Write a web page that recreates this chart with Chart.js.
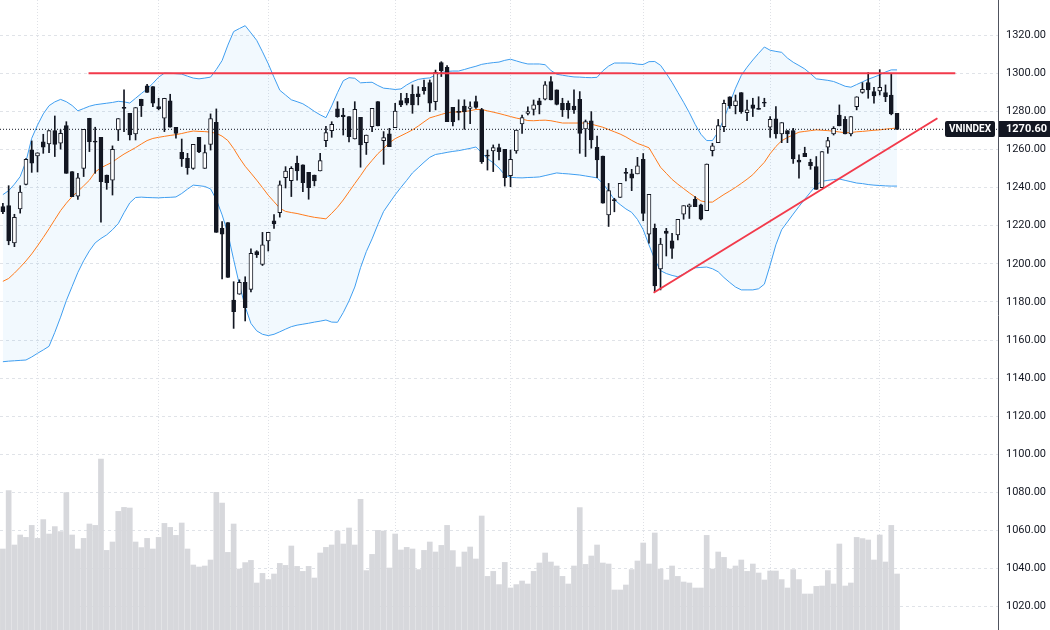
<!DOCTYPE html>
<html>
<head>
<meta charset="utf-8">
<title>VNINDEX</title>
<script src="https://cdn.jsdelivr.net/npm/chart.js@4.4.1/dist/chart.umd.min.js"></script>
<style>
  html, body { margin: 0; padding: 0; background: #fff; }
  #wrap { width: 1050px; height: 630px; }
</style>
</head>
<body>
<div id="wrap"><canvas id="chart" width="1050" height="630"></canvas></div>
<script>
// trading days (last 17 are empty future slots on the right)
const dates = [
  '2024-02-22','2024-02-23','2024-02-26','2024-02-27','2024-02-28','2024-02-29',
  '2024-03-01','2024-03-04','2024-03-05','2024-03-06','2024-03-07','2024-03-08','2024-03-11','2024-03-12','2024-03-13','2024-03-14','2024-03-15',
  '2024-03-18','2024-03-19','2024-03-20','2024-03-21','2024-03-22','2024-03-25','2024-03-26','2024-03-27','2024-03-28','2024-03-29',
  '2024-04-01','2024-04-02','2024-04-03','2024-04-04','2024-04-05','2024-04-08','2024-04-09','2024-04-10','2024-04-11','2024-04-12',
  '2024-04-15','2024-04-16','2024-04-17','2024-04-19','2024-04-22','2024-04-23','2024-04-24','2024-04-25','2024-04-26',
  '2024-05-02','2024-05-03','2024-05-06','2024-05-07','2024-05-08','2024-05-09','2024-05-10','2024-05-13','2024-05-14','2024-05-15','2024-05-16','2024-05-17',
  '2024-05-20','2024-05-21','2024-05-22','2024-05-23','2024-05-24','2024-05-27','2024-05-28','2024-05-29','2024-05-30','2024-05-31',
  '2024-06-03','2024-06-04','2024-06-05','2024-06-06','2024-06-07','2024-06-10','2024-06-11','2024-06-12','2024-06-13','2024-06-14',
  '2024-06-17','2024-06-18','2024-06-19','2024-06-20','2024-06-21','2024-06-24','2024-06-25','2024-06-26','2024-06-27','2024-06-28',
  '2024-07-01','2024-07-02','2024-07-03','2024-07-04','2024-07-05','2024-07-08','2024-07-09','2024-07-10','2024-07-11','2024-07-12',
  '2024-07-15','2024-07-16','2024-07-17','2024-07-18','2024-07-19','2024-07-22','2024-07-23','2024-07-24','2024-07-25','2024-07-26',
  '2024-07-29','2024-07-30','2024-07-31',
  '2024-08-01','2024-08-02','2024-08-05','2024-08-06','2024-08-07','2024-08-08','2024-08-09','2024-08-12','2024-08-13','2024-08-14','2024-08-15','2024-08-16',
  '2024-08-19','2024-08-20','2024-08-21','2024-08-22','2024-08-23','2024-08-26','2024-08-27','2024-08-28','2024-08-29','2024-08-30',
  '2024-09-04','2024-09-05','2024-09-06','2024-09-09','2024-09-10','2024-09-11','2024-09-12','2024-09-13','2024-09-16','2024-09-17',
  '2024-09-18','2024-09-19','2024-09-20','2024-09-23','2024-09-24','2024-09-25','2024-09-26','2024-09-27','2024-09-30',
  '2024-10-01','2024-10-02','2024-10-03','2024-10-04',
  '2024-10-07','2024-10-08','2024-10-09','2024-10-10','2024-10-11','2024-10-14','2024-10-15','2024-10-16','2024-10-17','2024-10-18',
  '2024-10-21','2024-10-22','2024-10-23','2024-10-24','2024-10-25','2024-10-28','2024-10-29'
];

const open = [
  1230.0,1230.5,1211.0,1228.8,1241.7,1259.8,1256.6,1264.0,1262.9,1269.9,
  1263.3,1272.5,1248.4,1235.5,1250.1,1276.4,1264.0,1266.4,1246.6,1243.9,
  1270.3,1281.8,1279.0,1268.2,1286.4,1293.4,1293.0,1282.5,1276.4,1285.5,
  1271.7,1258.5,1255.4,1250.1,1266.4,1250.1,1262.7,1274.3,1218.6,1221.6,
  1181.0,1184.0,1190.3,1186.6,1206.4,1199.7,1212.0,1222.6,1226.9,1245.2,
  1243.7,1252.8,1251.9,1248.0,1246.6,1248.7,1264.7,1269.9,1281.3,1278.1,
  1277.3,1265.5,1276.9,1263.6,1272.0,1285.1,1264.7,1268.2,1271.5,1285.7,
  1286.9,1289.0,1289.2,1292.6,1295.1,1285.1,1305.6,1303.1,1282.1,1279.6,
  1282.8,1281.6,1285.1,1281.0,1256.6,1259.2,1261.0,1260.1,1246.3,1259.2,
  1273.4,1279.0,1281.1,1285.5,1286.4,1295.6,1291.3,1284.3,1284.3,1282.8,
  1286.3,1270.8,1275.1,1261.2,1256.6,1225.6,1233.3,1234.9,1247.6,1247.2,
  1247.2,1254.8,1215.5,1218.6,1197.3,1217.2,1212.0,1215.1,1226.0,1230.0,
  1233.9,1230.9,1227.9,1259.4,1263.6,1272.0,1287.7,1283.0,1289.9,1279.4,
  1283.4,1281.6,1284.4,1271.7,1276.1,1268.2,1269.9,1269.9,1254.5,1258.0,
  1253.3,1251.0,1240.0,1261.2,1268.2,1278.1,1275.9,1268.2,1282.5,1290.0,
  1295.1,1290.4,1290.7,1289.9,1288.6,1279.0
];
const high = [
  1231.8,1241.0,1226.0,1241.0,1255.2,1264.5,1258.3,1268.0,1269.9,1277.6,
  1270.3,1274.6,1248.4,1247.5,1270.6,1276.4,1271.7,1266.4,1246.6,1261.9,
  1276.2,1291.3,1279.0,1282.0,1286.4,1294.2,1293.0,1286.9,1286.9,1289.0,
  1271.7,1265.5,1258.0,1262.7,1266.4,1262.4,1278.7,1281.3,1222.1,1221.6,
  1190.6,1191.6,1193.2,1207.8,1206.9,1216.5,1216.5,1225.9,1243.5,1251.0,
  1251.0,1256.6,1251.9,1248.0,1246.6,1258.0,1272.1,1274.6,1285.1,1281.6,
  1277.3,1285.1,1276.9,1267.6,1281.6,1285.1,1269.4,1271.1,1284.2,1289.5,
  1289.5,1293.9,1293.0,1296.5,1296.5,1301.7,1306.1,1304.0,1282.1,1286.1,
  1286.1,1285.0,1288.0,1281.6,1259.7,1262.4,1262.8,1260.1,1259.7,1270.2,
  1278.1,1282.4,1286.0,1286.9,1295.6,1298.3,1291.3,1286.9,1285.5,1291.3,
  1290.4,1275.5,1279.9,1267.1,1256.6,1242.2,1234.4,1242.2,1250.1,1249.6,
  1255.9,1257.9,1236.5,1220.9,1213.4,1218.6,1216.0,1223.4,1230.5,1231.4,
  1235.3,1231.4,1252.4,1263.3,1275.8,1286.0,1287.7,1288.6,1289.9,1286.0,
  1286.9,1287.7,1286.9,1277.3,1282.5,1274.1,1269.9,1271.1,1257.2,1261.2,
  1254.9,1256.3,1258.9,1266.4,1272.0,1283.4,1277.3,1277.3,1287.7,1295.1,
  1300.4,1292.7,1301.9,1293.9,1299.6,1279.0
];
const low = [
  1226.3,1210.0,1209.0,1226.6,1241.4,1248.0,1248.2,1258.0,1258.4,1256.3,
  1260.2,1247.5,1235.3,1233.8,1245.8,1258.9,1247.5,1221.8,1239.1,1236.1,
  1264.7,1269.4,1265.0,1265.0,1277.3,1290.0,1282.5,1280.8,1269.4,1271.7,
  1266.0,1251.1,1247.0,1249.6,1258.4,1250.1,1259.7,1216.5,1192.0,1192.9,
  1166.1,1184.0,1170.0,1185.3,1203.3,1199.1,1206.7,1218.6,1224.5,1239.8,
  1235.3,1243.9,1237.8,1233.9,1240.9,1248.7,1261.5,1266.4,1276.9,1267.6,
  1264.0,1265.5,1250.7,1257.4,1269.4,1272.4,1252.2,1261.5,1271.5,1282.5,
  1283.4,1279.0,1283.4,1289.0,1279.9,1280.8,1298.3,1274.6,1272.4,1275.5,
  1270.6,1273.6,1281.6,1252.7,1249.2,1248.4,1254.5,1240.8,1240.5,1258.0,
  1268.5,1278.1,1278.1,1278.7,1286.0,1286.0,1283.4,1277.3,1276.4,1279.0,
  1258.0,1256.3,1260.7,1245.2,1231.8,1219.6,1227.3,1234.9,1243.5,1238.4,
  1247.2,1222.6,1210.8,1185.4,1186.3,1204.1,1202.8,1212.5,1223.4,1223.8,
  1230.0,1223.1,1227.9,1256.6,1263.6,1269.4,1281.6,1278.7,1279.0,1275.1,
  1277.3,1281.1,1282.5,1266.4,1266.0,1263.6,1263.6,1252.7,1244.9,1256.3,
  1249.6,1239.1,1240.0,1258.0,1267.6,1272.4,1268.2,1267.1,1280.8,1289.5,
  1286.9,1284.3,1288.6,1285.1,1278.2,1270.6
];
const close = [
  1227.4,1212.0,1224.4,1237.7,1254.9,1252.8,1258.3,1261.2,1269.9,1262.7,
  1268.5,1247.5,1235.3,1245.1,1270.6,1264.1,1263.9,1243.1,1242.6,1260.1,
  1276.2,1281.6,1267.6,1282.0,1283.0,1290.0,1284.3,1281.5,1286.9,1271.7,
  1268.5,1255.0,1250.5,1262.7,1258.7,1258.4,1276.2,1216.5,1215.6,1192.9,
  1174.9,1190.3,1177.0,1205.5,1204.8,1209.9,1216.5,1220.9,1241.4,1248.7,
  1250.1,1248.7,1242.6,1240.0,1243.5,1254.2,1268.9,1273.2,1277.3,1277.3,
  1266.8,1281.1,1262.4,1267.6,1281.6,1272.4,1266.2,1261.5,1280.2,1283.4,
  1284.3,1283.4,1287.8,1290.9,1284.3,1300.5,1301.4,1274.6,1274.6,1279.5,
  1279.9,1282.4,1282.1,1253.6,1256.5,1261.0,1258.9,1245.2,1254.8,1270.2,
  1276.7,1279.9,1283.4,1283.4,1293.9,1286.0,1283.7,1280.8,1280.8,1280.8,
  1268.5,1274.6,1265.0,1254.5,1231.8,1238.4,1233.2,1242.2,1247.5,1244.9,
  1251.4,1226.5,1236.5,1188.4,1210.4,1216.0,1208.1,1223.4,1230.5,1230.9,
  1230.0,1223.4,1252.4,1261.9,1272.5,1284.3,1282.9,1285.5,1279.9,1280.8,
  1281.6,1281.1,1284.3,1275.9,1268.2,1274.1,1268.2,1255.0,1253.3,1256.3,
  1251.5,1239.1,1258.9,1264.7,1271.1,1272.4,1268.2,1277.3,1287.7,1291.6,
  1291.3,1288.1,1292.7,1287.8,1278.7,1270.6
];
const volume = [
  405,697,425,475,463,523,458,552,480,517,
  492,687,475,405,458,530,523,855,398,440,
  593,613,610,440,412,458,405,463,533,513,
  473,535,405,325,315,320,350,688,635,388,
  530,305,337,348,235,283,252,280,333,323,
  420,318,293,318,260,385,413,425,495,430,
  510,425,653,297,378,498,495,310,480,400,
  413,405,302,398,440,390,423,523,397,315,
  390,415,355,570,268,293,227,338,210,227,
  245,230,293,335,385,340,320,268,230,320,
  612,328,370,425,335,330,200,200,225,302,
  345,435,330,485,305,250,320,268,240,235,
  210,210,473,305,390,363,305,320,350,293,
  330,285,250,295,295,252,210,302,252,180,
  180,218,220,297,230,430,220,235,463,457,
  450,350,475,340,523,280
];

// Bollinger bands
const bbUpper = [
  1236.3,1238.4,1241.8,1245.8,1253.7,1265.9,1272.8,1278.7,1283.0,1285.0,
  1286.3,1285.1,1283.1,1280.3,1281.5,1282.7,1283.5,1283.9,1284.3,1284.7,
  1285.3,1285.0,1284.4,1286.9,1289.4,1291.8,1294.7,1298.0,1300.1,1300.0,
  1299.8,1299.6,1298.5,1297.5,1297.1,1297.5,1298.0,1302.0,1306.7,1314.8,
  1321.9,1323.5,1325.0,1321.2,1317.3,1311.3,1305.0,1297.9,1291.1,1288.6,
  1286.1,1285.1,1284.0,1282.1,1280.0,1278.2,1276.7,1282.9,1289.8,1296.1,
  1297.7,1297.4,1295.0,1295.2,1295.3,1293.6,1292.2,1291.9,1291.5,1291.8,
  1293.9,1295.6,1296.8,1297.3,1297.6,1299.1,1300.4,1301.0,1301.2,1301.2,
  1302.0,1302.9,1303.7,1304.7,1305.2,1305.6,1305.9,1306.8,1307.4,1306.5,
  1305.6,1304.9,1304.9,1304.9,1304.5,1301.5,1299.5,1299.0,1298.5,1298.1,
  1298.0,1297.8,1297.7,1297.9,1301.3,1303.8,1305.4,1305.4,1305.4,1305.3,
  1304.8,1304.6,1306.1,1306.2,1304.2,1299.9,1295.2,1290.0,1284.8,1279.3,
  1273.2,1268.0,1264.7,1264.7,1269.3,1276.1,1284.4,1292.2,1298.9,1303.2,
  1307.0,1310.5,1313.8,1312.1,1311.5,1311.0,1308.0,1305.8,1304.1,1302.3,
  1299.8,1297.1,1296.7,1296.3,1295.7,1294.5,1293.2,1292.7,1294.1,1295.5,
  1296.9,1298.0,1299.2,1300.7,1301.8,1301.8
];
const bbBasis = [
  1190.8,1192.3,1195.1,1198.2,1201.5,1205.2,1209.4,1213.8,1218.4,1223.2,
  1227.9,1231.8,1235.3,1238.0,1240.9,1243.9,1248.2,1250.4,1251.9,1253.4,
  1255.6,1257.6,1259.3,1261.0,1262.9,1264.7,1265.8,1266.4,1266.9,1267.4,
  1267.8,1268.4,1269.1,1269.7,1269.5,1269.4,1269.1,1268.5,1267.0,1264.7,
  1260.5,1255.6,1251.2,1247.6,1243.9,1240.0,1236.0,1232.6,1229.2,1227.5,
  1226.9,1226.4,1225.7,1225.0,1224.4,1224.0,1223.6,1226.5,1229.7,1233.5,
  1237.8,1242.1,1246.3,1250.7,1254.3,1257.8,1260.6,1263.5,1265.7,1267.2,
  1268.7,1270.3,1272.3,1274.5,1276.6,1277.5,1278.4,1279.3,1279.7,1279.7,
  1279.9,1280.4,1281.0,1281.0,1280.3,1279.6,1278.9,1278.1,1277.3,1276.5,
  1275.9,1275.2,1275.1,1275.3,1275.4,1275.1,1274.5,1273.9,1273.9,1273.9,
  1273.9,1273.9,1273.3,1272.5,1271.7,1270.5,1269.3,1268.1,1266.6,1264.8,
  1263.2,1262.1,1260.9,1255.8,1250.7,1247.5,1244.3,1241.8,1239.5,1237.2,
  1235.1,1233.0,1232.4,1232.4,1234.4,1236.4,1238.2,1240.1,1242.2,1244.4,
  1246.8,1250.1,1253.3,1257.8,1261.6,1264.6,1266.3,1267.7,1269.1,1269.5,
  1269.9,1270.3,1270.1,1269.9,1269.6,1269.2,1268.8,1268.9,1269.3,1269.5,
  1269.8,1270.1,1270.3,1270.7,1271.0,1271.3
];
const bbLower = [
  1148.6,1148.9,1149.1,1149.3,1149.5,1151.1,1153.0,1154.8,1156.7,1164.0,
  1172.0,1180.7,1188.1,1195.5,1201.6,1206.8,1211.0,1213.3,1215.2,1217.9,
  1221.1,1226.8,1232.0,1234.8,1235.0,1234.8,1234.7,1234.6,1234.8,1234.9,
  1235.1,1236.9,1239.2,1241.3,1241.0,1240.6,1239.3,1233.7,1225.7,1216.0,
  1202.2,1189.1,1177.5,1168.7,1164.8,1163.0,1162.3,1163.0,1164.3,1165.7,
  1167.0,1167.8,1168.3,1168.8,1169.4,1169.9,1170.5,1169.4,1169.3,1174.4,
  1180.5,1187.8,1198.0,1206.4,1213.1,1220.6,1227.5,1231.9,1236.2,1240.1,
  1243.8,1247.7,1250.5,1253.3,1255.9,1257.4,1257.9,1258.5,1259.0,1259.4,
  1260.0,1260.6,1261.3,1258.3,1255.2,1253.0,1250.3,1246.6,1245.4,1245.2,
  1245.1,1245.3,1245.4,1245.6,1246.3,1247.0,1247.7,1247.4,1247.2,1246.9,
  1246.6,1246.1,1245.6,1245.1,1242.2,1238.1,1233.6,1231.1,1228.8,1227.0,
  1223.3,1217.9,1209.9,1202.3,1196.4,1194.9,1193.9,1193.2,1194.6,1196.6,
  1197.9,1198.1,1198.3,1197.4,1195.8,1192.8,1190.2,1187.8,1186.3,1186.3,
  1186.3,1186.9,1189.3,1199.3,1210.0,1217.9,1222.0,1226.1,1230.1,1233.9,
  1237.6,1241.3,1243.3,1243.8,1244.2,1244.5,1243.8,1243.1,1242.4,1242.1,
  1241.6,1241.3,1241.1,1240.9,1240.8,1240.8
];

const priceTicks = [1020, 1040, 1060, 1080, 1100, 1120, 1140, 1160, 1180, 1200,
  1220, 1240, 1260, 1280, 1300, 1320, 1340];

// drawn trend lines, x in bar index units
const resistanceLine = [{ x: 14.85, y: 1300 }, { x: 165.1, y: 1300 }];
const supportLine = [{ x: 112.8, y: 1184.8 }, { x: 162.0, y: 1276.4 }];

const symbol = 'VNINDEX';
const lastClose = close[close.length - 1];

const INK = '#131722';

const isMonthStart = i => i > 0 && i < dates.length && dates[i].slice(0, 7) !== dates[i - 1].slice(0, 7);
const bodyColor = i => (close[i] - open[i] < 0.8) ? INK : '#ffffff';

// price tag + symbol tag on the right
const lastPriceTags = {
  id: 'lastPriceTags',
  afterDraw(chart) {
    const { ctx } = chart;
    const yScale = chart.scales.y;
    const yPix = Math.round(yScale.getPixelForValue(lastClose));
    ctx.save();
    ctx.fillStyle = INK;
    ctx.beginPath();
    ctx.roundRect(945, yPix - 8, 50, 16, 2);
    ctx.fill();
    ctx.fillRect(yScale.left + 1, yPix - 8, chart.width - yScale.left - 1, 16);
    ctx.fillStyle = '#ffffff';
    ctx.textBaseline = 'middle';
    ctx.textAlign = 'center';
    ctx.font = 'bold 10px Roboto';
    ctx.fillText(symbol, 970, yPix + 0.5);
    ctx.textAlign = 'left';
    ctx.font = 'bold 11px Roboto';
    ctx.fillText(lastClose.toFixed(2), yScale.left + 8, yPix + 0.5);
    ctx.restore();
  }
};

new Chart(document.getElementById('chart'), {
  type: 'bar',
  data: {
    labels: dates,
    datasets: [
      {
        type: 'line', label: 'BB upper', data: bbUpper,
        borderColor: '#3f9ef0', borderWidth: 1, pointRadius: 0,
        fill: '+2', backgroundColor: 'rgba(33,150,243,0.06)', order: 5
      },
      {
        type: 'line', label: 'BB basis', data: bbBasis,
        borderColor: '#ff7b1c', borderWidth: 1, pointRadius: 0, fill: false, order: 4
      },
      {
        type: 'line', label: 'BB lower', data: bbLower,
        borderColor: '#3f9ef0', borderWidth: 1, pointRadius: 0, fill: false, order: 3
      },
      {
        label: 'Volume', data: volume, yAxisID: 'yVol',
        backgroundColor: '#d7d8dc', barThickness: 5, grouped: false, order: 10
      },
      {
        label: 'Wick', data: low.map((l, i) => [l, high[i]]),
        backgroundColor: INK, barThickness: 1, grouped: false, order: 1
      },
      {
        label: 'Body', data: open.map((o, i) => [o, close[i]]),
        backgroundColor: ctx => bodyColor(ctx.dataIndex),
        borderColor: INK, borderWidth: 1, borderSkipped: false,
        barThickness: 4, minBarLength: 1, grouped: false, order: 0
      },
      {
        type: 'line', label: 'Last', data: [{ x: -0.5, y: lastClose }, { x: dates.length - 0.5, y: lastClose }],
        xAxisID: 'xLine', borderColor: INK, borderWidth: 1, borderDash: [1, 2],
        pointRadius: 0, fill: false, order: 2
      },
      {
        type: 'line', label: 'Resistance', data: resistanceLine, xAxisID: 'xLine',
        borderColor: '#f23a4b', borderWidth: 2, pointRadius: 0, fill: false, order: -1
      },
      {
        type: 'line', label: 'Support', data: supportLine, xAxisID: 'xLine',
        borderColor: '#f23a4b', borderWidth: 2, pointRadius: 0, fill: false, order: -1
      }
    ]
  },
  options: {
    responsive: false,
    animation: false,
    devicePixelRatio: 1,
    layout: { padding: 0 },
    plugins: { legend: { display: false }, tooltip: { enabled: false } },
    scales: {
      x: {
        type: 'category',
        offset: true,
        ticks: { display: false, autoSkip: false },
        grid: {
          offset: false,
          drawTicks: false,
          color: c => isMonthStart(c.index) ? '#dfe1e6' : 'rgba(0,0,0,0)'
        },
        border: { display: false, dash: [1, 2] }
      },
      xLine: {
        type: 'linear', display: false, offset: false,
        min: -0.5, max: dates.length - 0.5
      },
      y: {
        type: 'linear',
        position: 'right',
        min: 1007.77,
        max: 1338.48,
        afterBuildTicks: s => { s.ticks = priceTicks.map(v => ({ value: v })); },
        afterFit: s => { s.width = 52; s.paddingTop = 0; s.paddingBottom = 0; },
        ticks: {
          padding: 8,
          color: INK,
          font: { family: 'Roboto', size: 11 },
          callback: v => Number(v).toFixed(2)
        },
        grid: { color: '#e0e3e8', drawTicks: false },
        border: { display: true, color: '#50535e', width: 1, dash: [3, 3] }
      },
      yVol: { type: 'linear', display: false, min: 0, max: 3150 }
    }
  },
  plugins: [lastPriceTags]
});
</script>
</body>
</html>
